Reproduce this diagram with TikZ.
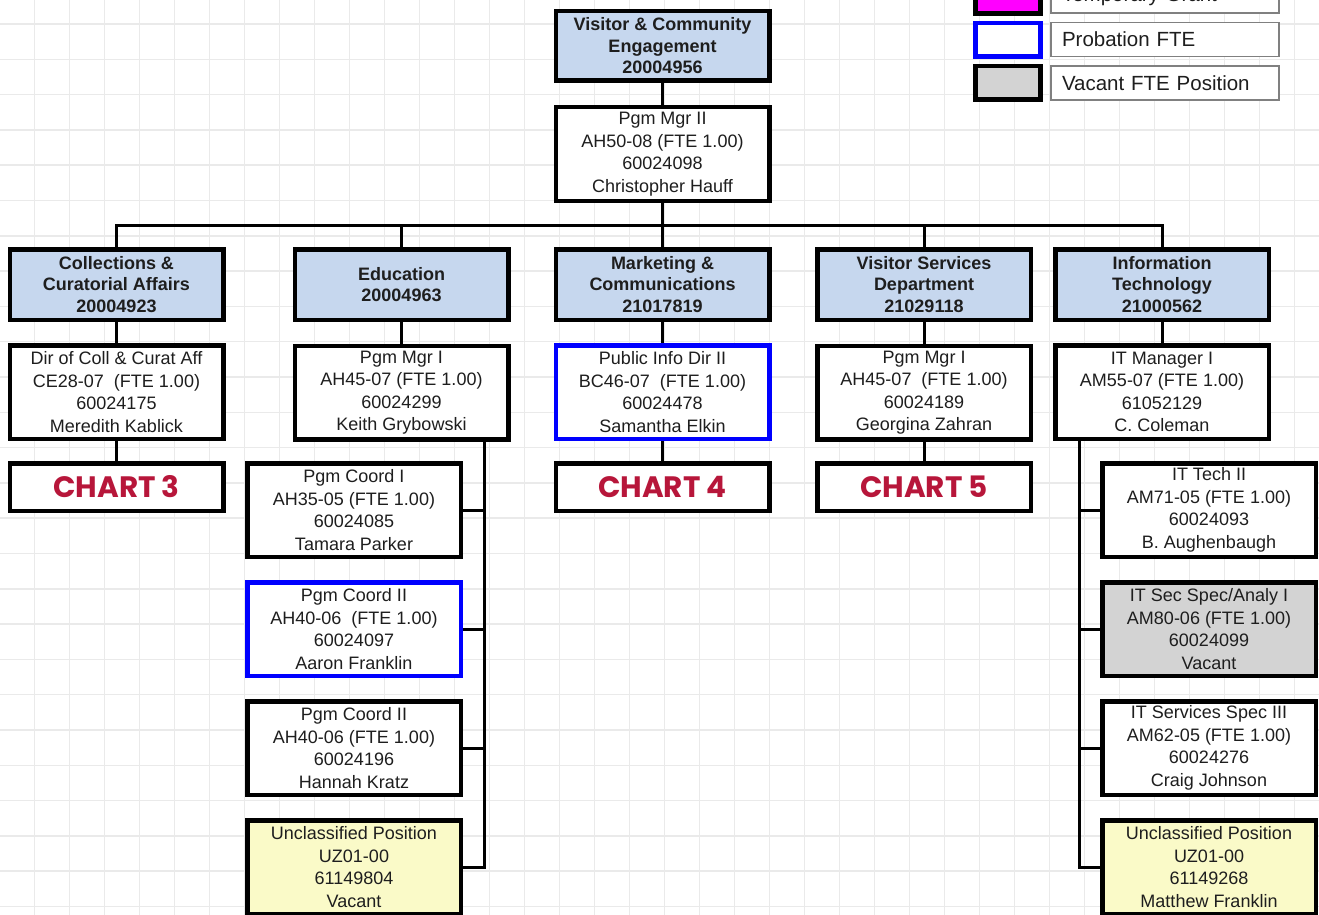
\documentclass[tikz,border=0pt]{standalone}
\usepackage{fontspec}
\setmainfont{Liberation Sans}
\newfontfamily\chartfont{Poppins}
\definecolor{deptblue}{RGB}{198,215,238}
\definecolor{vacyellow}{RGB}{250,250,200}
\definecolor{vacgray}{RGB}{211,211,211}
\definecolor{chartred}{RGB}{183,22,58}
\definecolor{txt}{RGB}{30,30,30}
\definecolor{gridc}{RGB}{234,234,234}
\definecolor{probblue}{RGB}{0,0,255}
\definecolor{tempmag}{RGB}{255,0,255}
\pgfdeclarelayer{back}
\pgfdeclarelayer{bg}
\pgfsetlayers{back,bg,main}
\tikzset{
  box/.style={draw=black, line width=4.5pt, fill=white, rectangle, inner sep=0pt,
    minimum width=213.5pt, minimum height=93.5pt, align=center, text=txt,
    font=\fontsize{18}{22.5}\selectfont},
  dept/.style={box, fill=deptblue, minimum height=70.5pt,
    font=\bfseries\fontsize{18}{21.5}\selectfont},
  chartbox/.style={box, minimum height=47.5pt, text=chartred,
    font=\chartfont\bfseries\fontsize{29.5}{32}\selectfont},
  probation/.style={draw=probblue},
  vacant/.style={fill=vacgray},
  unclass/.style={fill=vacyellow},
  conn/.style={line width=3pt, draw=black},
  legsw/.style={draw=black, line width=4.5pt, rectangle, minimum width=65pt, minimum height=33.5pt, inner sep=0pt},
  legtxt/.style={draw=black!50, line width=1.5pt, fill=white, rectangle, text width=206pt,
    inner xsep=11pt, inner ysep=0pt, minimum height=34pt, align=left, text=txt,
    font=\fontsize{20.5}{24}\selectfont}
}
\begin{document}
\begin{tikzpicture}[x=1pt,y=-1pt]
\useasboundingbox (0,0) rectangle (1319,915);
\begin{pgfonlayer}{back}
\fill[white] (0,0) rectangle (1319,915);
\foreach \i in {0,...,37} \draw[gridc, line width=1.5pt] (34.5+35*\i,0) -- (34.5+35*\i,915);
\foreach \j in {0,...,25} \draw[gridc, line width=1.5pt] (0,24+35.3*\j) -- (1319,24+35.3*\j);
\end{pgfonlayer}

% legend
\node[legsw, fill=tempmag] (lg1) at (1008,-3) {};
\node[legsw, draw=probblue, fill=white] (lg2) at (1008,40) {};
\node[legsw, fill=vacgray] (lg3) at (1008,83) {};
\node[legtxt] (lt1) at (1165,-4) {Temporary Grant};
\node[legtxt] (lt2) at (1165,39.5) {Probation FTE};
\node[legtxt] (lt3) at (1165,83) {Vacant FTE Position};

% top
\node[dept, minimum height=69.5pt] (top) at (662.5,46) {Visitor \& Community\\Engagement\\20004956};
\node[box] (mgr) at (662.5,154) {Pgm Mgr II\\AH50-08 (FTE 1.00)\\60024098\\Christopher Hauff};

% departments
\node[dept] (d1) at (116.5,284.5) {Collections \&\\Curatorial Affairs\\20004923};
\node[dept] (d2) at (401.5,284.5) {Education\\20004963};
\node[dept] (d3) at (662.5,284.5) {Marketing \&\\Communications\\21017819};
\node[dept] (d4) at (924,284.5) {Visitor Services\\Department\\21029118};
\node[dept] (d5) at (1162,284.5) {Information\\Technology\\21000562};

% managers
\node[box] (p1) at (116.5,392) {Dir of Coll \& Curat Aff\\CE28-07\ \ (FTE 1.00)\\60024175\\Meredith Kablick};
\node[box] (p2) at (401.5,392.5) {Pgm Mgr I\\AH45-07 (FTE 1.00)\\60024299\\Keith Grybowski};
\node[box, probation] (p3) at (662.5,392) {Public Info Dir II\\BC46-07\ \ (FTE 1.00)\\60024478\\Samantha Elkin};
\node[box] (p4) at (924,392.5) {Pgm Mgr I\\AH45-07\ \ (FTE 1.00)\\60024189\\Georgina Zahran};
\node[box] (p5) at (1162,392) {IT Manager I\\AM55-07 (FTE 1.00)\\61052129\\C. Coleman};

% charts
\node[chartbox] (c1) at (116.5,487) {CHART 3};
\node[chartbox] (c3) at (662.5,487) {CHART 4};
\node[chartbox] (c4) at (924,487) {CHART 5};

% education staff
\node[box] (e1) at (354,510) {Pgm Coord I\\AH35-05 (FTE 1.00)\\60024085\\Tamara Parker};
\node[box, probation] (e2) at (354,629) {Pgm Coord II\\AH40-06\ \ (FTE 1.00)\\60024097\\Aaron Franklin};
\node[box] (e3) at (354,748) {Pgm Coord II\\AH40-06 (FTE 1.00)\\60024196\\Hannah Kratz};
\node[box, unclass] (e4) at (354,867) {Unclassified Position\\UZ01-00\\61149804\\Vacant};

% IT staff
\node[box] (i1) at (1209,510) {IT Tech II\\AM71-05 (FTE 1.00)\\60024093\\B. Aughenbaugh};
\node[box, vacant] (i2) at (1209,629) {IT Sec Spec/Analy I\\AM80-06 (FTE 1.00)\\60024099\\Vacant};
\node[box] (i3) at (1209,748) {IT Services Spec III\\AM62-05 (FTE 1.00)\\60024276\\Craig Johnson};
\node[box, unclass] (i4) at (1209,867) {Unclassified Position\\UZ01-00\\61149268\\Matthew Franklin};

\coordinate (bus) at (662.5,225);
\coordinate (ebus) at (484,441);
\coordinate (ibus) at (1079,441);

\begin{pgfonlayer}{bg}
\draw[conn] (top) -- (mgr);
\draw[conn] (mgr.south) -- (bus);
\draw[conn] (d1.north) |- (bus) -| (d5.north);
\draw[conn] (d2.north) -- (d2.north |- bus);
\draw[conn] (d3.north) -- (bus);
\draw[conn] (d4.north) -- (d4.north |- bus);
\draw[conn] (d1) -- (p1);
\draw[conn] (d2) -- (p2);
\draw[conn] (d3) -- (p3);
\draw[conn] (d4) -- (p4);
\draw[conn] (d5) -- (p5);
\draw[conn] (p1) -- (c1);
\draw[conn] (p3) -- (c3);
\draw[conn] (p4) -- (c4);
\draw[conn] (ebus) |- (e4.east);
\draw[conn] (e1.east) -- (e1.east -| ebus);
\draw[conn] (e2.east) -- (e2.east -| ebus);
\draw[conn] (e3.east) -- (e3.east -| ebus);
\draw[conn] (ibus) |- (i4.west);
\draw[conn] (i1.west) -- (i1.west -| ibus);
\draw[conn] (i2.west) -- (i2.west -| ibus);
\draw[conn] (i3.west) -- (i3.west -| ibus);
\end{pgfonlayer}
\end{tikzpicture}
\end{document}
